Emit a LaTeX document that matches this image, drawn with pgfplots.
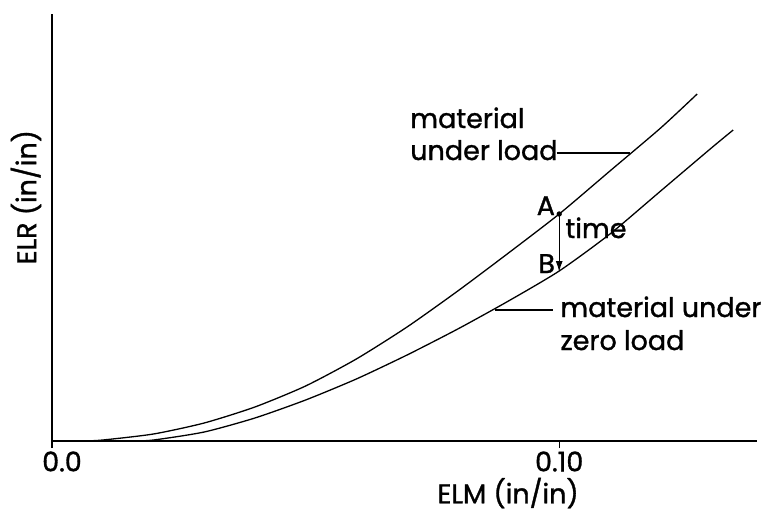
\documentclass[border=0pt]{standalone}
\usepackage{fontspec}
\setmainfont{Poppins}[FakeBold=1.2]
\usepackage{pgfplots}
\usepackage{pgfplotstable}
\usetikzlibrary{arrows.meta}
\pgfplotsset{compat=1.18}

% curves (x in in/in, y in arbitrary units)
\pgfplotstableread{
x y
0.000 0
0.006 0
0.010 1
0.020 7
0.030 18
0.040 34
0.050 55
0.060 82
0.070 114
0.080 150
0.090 188
0.100 227
0.110 270
0.120 313
0.1272 347
}\underload
\pgfplotstableread{
x y
0.000 0
0.015 0
0.020 1
0.030 9
0.040 23
0.050 41
0.060 62
0.070 86
0.080 112
0.090 140
0.100 170
0.110 207
0.120 250
0.130 293
0.1343 311
}\zeroload

\begin{document}
\begin{tikzpicture}
\newcommand{\lett}{\fontsize{27}{32}\selectfont}
\begin{axis}[
    name=ax,
    at={(0,0)}, anchor=south west,
    scale only axis,
    width=705pt, height=427pt,
    axis lines=left,
    axis line style={-, line width=1.4pt},
    xmin=0, xmax=0.139, ymin=0, ymax=427,
    xtick={0,0.1}, xticklabels={\hspace*{20pt}0.0,0.10},
    ytick=\empty,
    tick align=outside,
    major tick length=7pt,
    tick style={black, line width=1.2pt},
    ticklabel style={font=\lett},
    /pgf/number format/assume math mode=true,
    xlabel={ELM (in/in)},
    ylabel={ELR (in/in)},
    label style={font=\lett},
    xlabel style={at={(axis description cs:0.647,-0.122)}, anchor=center},
    ylabel style={at={(axis description cs:-0.037,0.571)}, anchor=center},
    clip=false,
]
\addplot[black, line width=1.3pt, smooth, tension=0.4] table {\underload};
\addplot[black, line width=1.3pt, smooth, tension=0.4] table {\zeroload};
\addplot[only marks, mark=*, mark size=2.4pt, black] coordinates {(0.1,227)};
\draw[black, line width=1.1pt, -{Latex[length=11pt,width=7pt]}] (axis cs:0.1,227) -- (axis cs:0.1,169);
\draw[black, line width=1.3pt] (axis cs:0.0995,288) -- (axis cs:0.1140,288);
\draw[black, line width=1.3pt] (axis cs:0.0874,131) -- (axis cs:0.0988,131);
\node[anchor=base west, inner sep=0, font=\lett] at (axis cs:0.0706,313) {material};
\node[anchor=base west, inner sep=0, font=\lett] at (axis cs:0.0706,281) {under load};
\node[anchor=base east, inner sep=0, font=\lett] at (axis cs:0.0992,226) {A};
\node[anchor=base west, inner sep=0, font=\lett] at (axis cs:0.1012,203) {time};
\node[anchor=base east, inner sep=0, font=\lett] at (axis cs:0.0992,168) {B};
\node[anchor=base west, inner sep=0, font=\lett] at (axis cs:0.1002,124) {material under};
\node[anchor=base west, inner sep=0, font=\lett] at (axis cs:0.1002,91) {zero load};
\end{axis}
\pgfresetboundingbox
\path (-52pt,-74pt) rectangle (715pt,441pt);
\end{tikzpicture}
\end{document}
